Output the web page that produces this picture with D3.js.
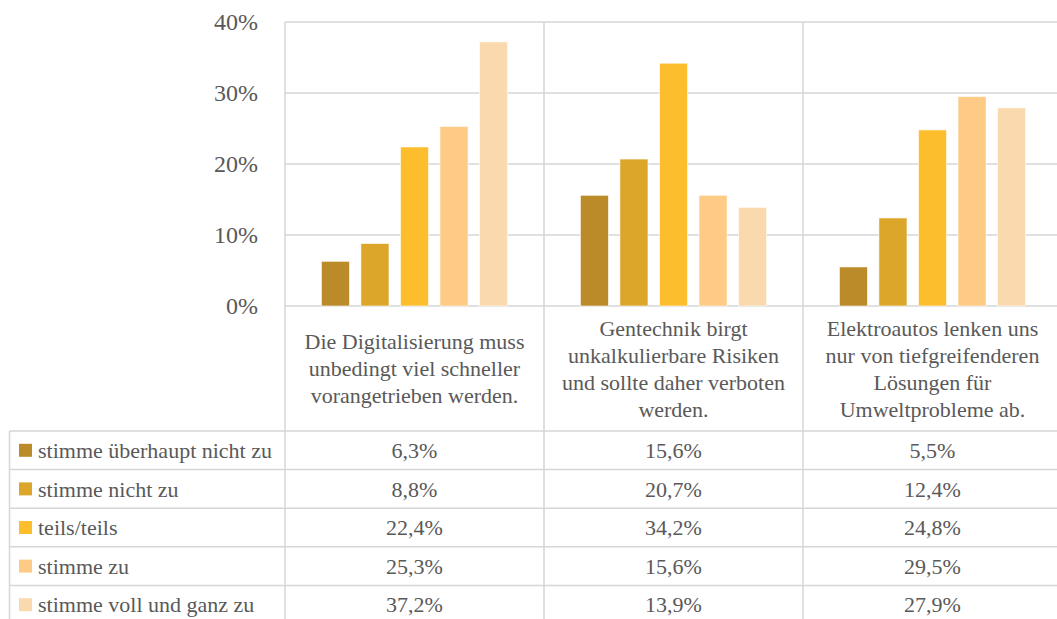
<!DOCTYPE html>
<html>
<head>
<meta charset="utf-8">
<script src="https://cdn.jsdelivr.net/npm/d3@7"></script>
<style>
  body { margin: 0; background: #fff; }
</style>
</head>
<body>
<div id="chart"></div>
<script>
// kategorien (aussagen), zeilenweise umbrochen wie im original
const categories = [
  ["Die Digitalisierung muss", "unbedingt viel schneller", "vorangetrieben werden."],
  ["Gentechnik birgt", "unkalkulierbare Risiken", "und sollte daher verboten", "werden."],
  ["Elektroautos lenken uns", "nur von tiefgreifenderen", "Lösungen für", "Umweltprobleme ab."]
];

const seriesNames = [
  "stimme überhaupt nicht zu",
  "stimme nicht zu",
  "teils/teils",
  "stimme zu",
  "stimme voll und ganz zu"
];

// werte in prozent, je aussage
const ueberhauptNicht = [6.3, 15.6, 5.5];
const nichtZu = [8.8, 20.7, 12.4];
const teilsTeils = [22.4, 34.2, 24.8];
const stimmeZu = [25.3, 15.6, 29.5];
const vollUndGanz = [37.2, 13.9, 27.9];

const seriesValues = [ueberhauptNicht, nichtZu, teilsTeils, stimmeZu, vollUndGanz];
const colors = ["#bc8b29", "#dca62b", "#fdbe2d", "#fdcb86", "#f9d9ad"];
const yTicks = [0, 10, 20, 30, 40];

const W = 1057, H = 619;
const gridColor = "#d6d6d6";
const FONT = "Liberation Serif";
const textColor = "#595959";

const svg = d3.select("#chart").append("svg")
  .attr("width", W)
  .attr("height", H)
  .attr("font-family", FONT);

// skalen
const x = d3.scaleBand()
  .domain(d3.range(categories.length))
  .range([285, 1062])
  .padding(0);

const xs = d3.scaleBand()
  .domain(d3.range(seriesNames.length))
  .range([0, x.bandwidth()])
  .paddingInner(0.29)
  .paddingOuter(0.92);

const y = d3.scaleLinear()
  .domain([0, 40])
  .range([306, 22]);

const tableTop = 431, rowH = 38.6;
const rows = d3.scaleBand()
  .domain(d3.range(seriesNames.length))
  .range([tableTop, tableTop + rowH * seriesNames.length]);

// gitterlinien
svg.append("g")
  .selectAll("line")
  .data(yTicks)
  .join("line")
    .attr("x1", x.range()[0])
    .attr("x2", x.range()[1])
    .attr("y1", d => y(d))
    .attr("y2", d => y(d))
    .attr("stroke", gridColor)
    .attr("stroke-width", 1.5);

// senkrechte trennlinien zwischen den aussagen
svg.append("g")
  .selectAll("line")
  .data(d3.range(categories.length + 1))
  .join("line")
    .attr("x1", d => x.range()[0] + d * x.step())
    .attr("x2", d => x.range()[0] + d * x.step())
    .attr("y1", y(40))
    .attr("y2", H)
    .attr("stroke", gridColor)
    .attr("stroke-width", 1.5);

// tabellenlinien
svg.append("g")
  .selectAll("line")
  .data(d3.range(seriesNames.length + 1))
  .join("line")
    .attr("x1", 9.5)
    .attr("x2", x.range()[1])
    .attr("y1", d => tableTop + d * rowH)
    .attr("y2", d => tableTop + d * rowH)
    .attr("stroke", gridColor)
    .attr("stroke-width", 1.5);

svg.append("line")
  .attr("x1", 9.5).attr("x2", 9.5)
  .attr("y1", tableTop).attr("y2", H)
  .attr("stroke", gridColor)
  .attr("stroke-width", 1.5);

// y-achse
const yAxis = svg.append("g")
  .attr("transform", `translate(${x.range()[0]},0)`)
  .call(d3.axisLeft(y).tickValues(yTicks).tickFormat(d => d + "%").tickSize(0).tickPadding(27))
  .attr("font-family", FONT)
  .attr("font-size", 24);
yAxis.select(".domain").remove();
yAxis.selectAll("text")
  .attr("fill", textColor);

// balken
seriesValues.forEach((vals, s) => {
  svg.append("g")
    .selectAll("rect")
    .data(vals)
    .join("rect")
      .attr("x", (d, i) => x(i) + xs(s))
      .attr("y", d => y(d))
      .attr("width", xs.bandwidth())
      .attr("height", d => y(0) - y(d))
      .attr("fill", colors[s])
      .attr("stroke", "#fff")
      .attr("stroke-width", 0.6);
});

// kategorie-beschriftungen
const lineH = 27;
const labelMid = (y(0) + tableTop) / 2;
categories.forEach((lines, i) => {
  const t = svg.append("text")
    .attr("text-anchor", "middle")
    .attr("fill", textColor)
    .attr("font-size", 22);
  lines.forEach((ln, k) => {
    t.append("tspan")
      .attr("x", x(i) + x.bandwidth() / 2)
      .attr("y", labelMid + (k - (lines.length - 1) / 2) * lineH)
      .attr("dy", "0.35em")
      .text(ln);
  });
});

// datentabelle: legende + werte
seriesNames.forEach((name, s) => {
  const cy = rows(s) + rows.bandwidth() / 2;
  svg.append("rect")
    .attr("x", 19)
    .attr("y", cy - 6.5)
    .attr("width", 13)
    .attr("height", 13)
    .attr("fill", colors[s]);
  svg.append("text")
    .attr("x", 38)
    .attr("y", cy)
    .attr("dy", "0.35em")
    .attr("fill", textColor)
    .attr("font-size", 22)
    .text(name);

  svg.append("g")
    .selectAll("text")
    .data(seriesValues[s])
    .join("text")
      .attr("x", (d, i) => x(i) + x.bandwidth() / 2)
      .attr("y", cy)
      .attr("dy", "0.35em")
      .attr("text-anchor", "middle")
      .attr("fill", textColor)
      .attr("font-size", 22)
      .text(d => d.toFixed(1).replace(".", ",") + "%");
});
</script>
</body>
</html>
